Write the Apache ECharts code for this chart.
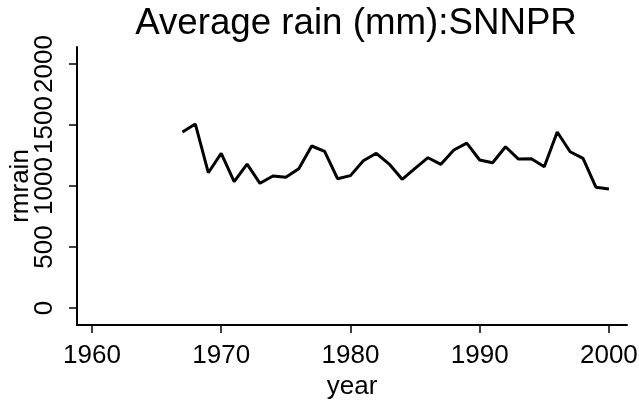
<!DOCTYPE html>
<html>
<head>
<meta charset="utf-8">
<script src="https://cdn.jsdelivr.net/npm/echarts@6/dist/echarts.min.js"></script>
<style>
  html, body { margin: 0; padding: 0; background: #fff; }
  #main { width: 639px; height: 400px; }
</style>
</head>
<body>
<div id="main"></div>
<script>
// 数据：年份 与 平均降雨量
var years = [1967, 1968, 1969, 1970, 1971, 1972, 1973, 1974, 1975, 1976, 1977, 1978, 1979,
             1980, 1981, 1982, 1983, 1984, 1985, 1986, 1987, 1988, 1989, 1990, 1991, 1992,
             1993, 1994, 1995, 1996, 1997, 1998, 1999, 2000];
var rmrain = [1443, 1508, 1109, 1268, 1035, 1180, 1022, 1082, 1071, 1142, 1328, 1284, 1060,
              1085, 1207, 1268, 1180, 1055, 1145, 1232, 1178, 1295, 1352, 1213, 1191, 1322,
              1221, 1224, 1158, 1443, 1281, 1227, 989, 975];
var xTicks = [1960, 1970, 1980, 1990, 2000];
var yTicks = [0, 500, 1000, 1500, 2000];

var font = 'Liberation Sans, Arial, sans-serif';

var myChart = echarts.init(document.getElementById('main'));
myChart.setOption({
    animation: false,
    backgroundColor: '#fff',
    title: {
        text: 'Average rain (mm):SNNPR',
        left: 351,
        textAlign: 'center',
        top: 0,
        textStyle: { fontFamily: font, fontSize: 36.7, fontWeight: 'normal', color: '#000' }
    },
    grid: { left: 77, right: 12, top: 47, bottom: 75, containLabel: false, outerBoundsMode: 'none' },
    xAxis: {
        type: 'value',
        min: 1958.84,
        max: 2001.4,
        name: 'year',
        nameLocation: 'middle',
        nameGap: 49,
        nameMoveOverlap: false,
        nameTextStyle: { fontFamily: font, fontSize: 26, color: '#000' },
        splitLine: { show: false },
        axisLine: { show: true, onZero: false, lineStyle: { color: '#000', width: 2 } },
        axisTick: { show: true, customValues: xTicks, length: 8, lineStyle: { color: '#000', width: 1.5 } },
        axisLabel: {
            customValues: xTicks, margin: 18, fontFamily: font, fontSize: 26, color: '#000',
            formatter: function (v) { return String(v); }
        }
    },
    yAxis: {
        type: 'value',
        min: -140,
        max: 2140,
        name: 'rmrain',
        nameLocation: 'middle',
        nameGap: 43,
        nameRotate: 90,
        nameMoveOverlap: false,
        nameTextStyle: { fontFamily: font, fontSize: 26, color: '#000' },
        splitLine: { show: false },
        axisLine: { show: true, onZero: false, lineStyle: { color: '#000', width: 2 } },
        axisTick: { show: true, customValues: yTicks, length: 8, lineStyle: { color: '#000', width: 1.5 } },
        axisLabel: {
            customValues: yTicks, rotate: 90, margin: 19, fontFamily: font, fontSize: 26, color: '#000',
            formatter: function (v) { return String(v); }
        }
    },
    series: [{
        type: 'line',
        data: years.map(function (y, i) { return [y, rmrain[i]]; }),
        symbol: 'none',
        lineStyle: { color: '#000', width: 3 }
    }]
});
</script>
</body>
</html>
